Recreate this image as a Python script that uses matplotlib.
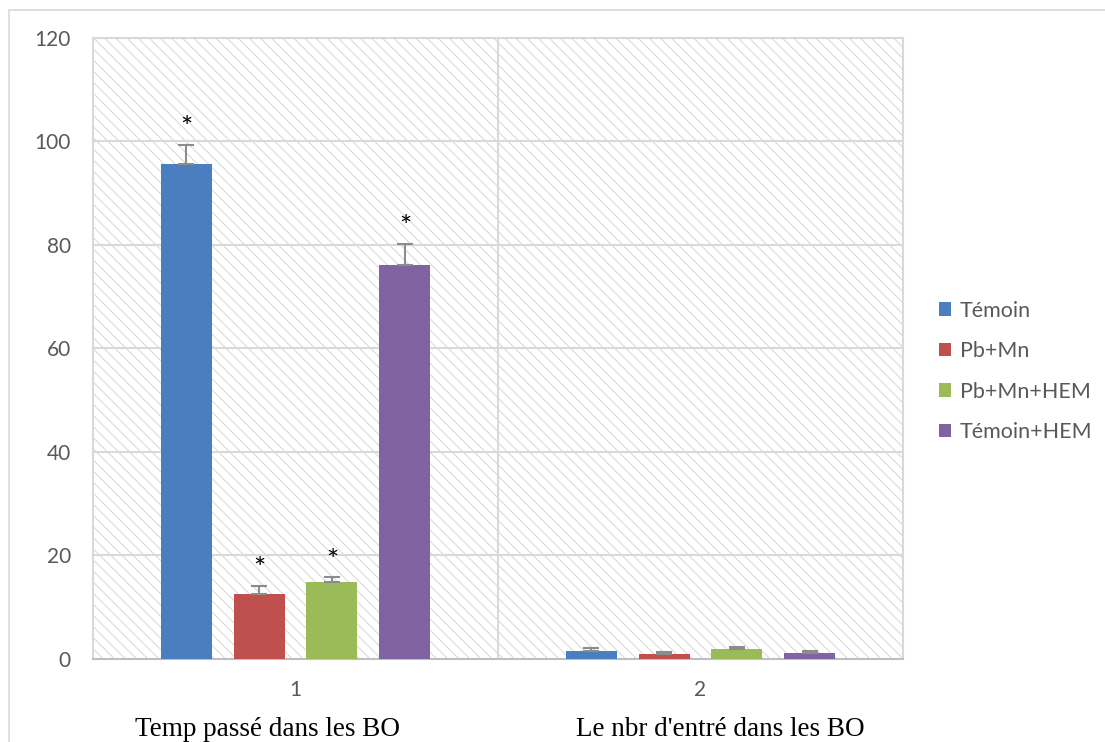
import numpy as np
import matplotlib.pyplot as plt
from matplotlib.patches import Rectangle

# Group means and standard errors per treatment
groups = ['1', '2']
group_titles = ['Temp passé dans les BO', "Le nbr d'entré dans les BO"]
series = ['Témoin', 'Pb+Mn', 'Pb+Mn+HEM', 'Témoin+HEM']
colors = ['#4a7ebf', '#c0504d', '#9bbb59', '#8064a2']

temoin = [95.6, 1.6]
pb_mn = [12.6, 0.9]
pb_mn_hem = [14.9, 2.0]
temoin_hem = [76.2, 1.2]

temoin_err = [3.8, 0.5]
pb_mn_err = [1.5, 0.4]
pb_mn_hem_err = [0.9, 0.4]
temoin_hem_err = [4.0, 0.4]

# significance marks on the first group only
stars = [True, True, True, True]

values = [temoin, pb_mn, pb_mn_hem, temoin_hem]
errors = [temoin_err, pb_mn_err, pb_mn_hem_err, temoin_hem_err]

plt.rcParams['font.family'] = ['Lato', 'DejaVu Sans']
plt.rcParams['hatch.linewidth'] = 0.7
plt.rcParams['hatch.color'] = '#d6d6d6'

fig = plt.figure(figsize=(11.05, 7.42), dpi=100)

# thin frame around the whole chart
fig.patches.append(Rectangle((0.008, -0.05), 1.1, 1.036, transform=fig.transFigure,
                             fill=False, edgecolor='#d9d9d9', linewidth=1.2))

ax = fig.add_axes([0.0842, 0.1119, 0.733, 0.8369])

# hatched plot background
ax.add_patch(Rectangle((0, 0), 1, 1, transform=ax.transAxes, facecolor='white',
                       hatch='\\\\\\', edgecolor='#d6d6d6', linewidth=0, zorder=0))

x = np.arange(len(groups))
step = 0.18
width = 0.126
for i, (vals, errs, col, name) in enumerate(zip(values, errors, colors, series)):
    pos = x + (i - 1.5) * step
    ax.bar(pos, vals, width, color=col, label=name, zorder=3)
    ax.errorbar(pos, vals, yerr=[np.zeros(len(errs)), errs], fmt='none',
                ecolor='#8c8c8c', elinewidth=1.5, capsize=6, capthick=1.5, zorder=4)
    if stars[i]:
        ax.text(pos[0], vals[0] + errs[0] + 3.0, '*', ha='center', va='center',
                fontsize=21, color='black', zorder=5)

ax.set_xlim(-0.5, 1.5)
ax.set_ylim(0, 120)
ax.set_yticks(np.arange(0, 121, 20))
ax.set_xticks(x)
ax.set_xticklabels(groups)
ax.tick_params(axis='both', length=0, labelsize=15, colors='#595959')
ax.tick_params(axis='y', pad=16)
ax.tick_params(axis='x', pad=15)

for yv in np.arange(20, 121, 20):
    ax.axhline(yv, color='#d9d9d9', linewidth=1.5, zorder=1)
ax.axvline(0.5, color='#d9d9d9', linewidth=1.5, zorder=1)

for side in ['left', 'top', 'right']:
    ax.spines[side].set_color('#d9d9d9')
    ax.spines[side].set_linewidth(1.5)
ax.spines['bottom'].set_color('#bfbfbf')
ax.spines['bottom'].set_linewidth(1.5)

# category captions under the numbered ticks
title_pos = [x[0] - 0.068, x[1] + 0.05]
for xp, title in zip(title_pos, group_titles):
    ax.text(xp, -0.113, title, transform=ax.get_xaxis_transform(),
            ha='center', va='center', fontsize=19.5, family='Liberation Serif',
            color='black')

ax.legend(loc='center left', bbox_to_anchor=(1.02, 0.463), frameon=False,
          fontsize=15.5, labelcolor='#595959', handlelength=0.6, handleheight=0.6,
          labelspacing=0.95, handletextpad=0.4)

plt.savefig('out.png', dpi=100)
